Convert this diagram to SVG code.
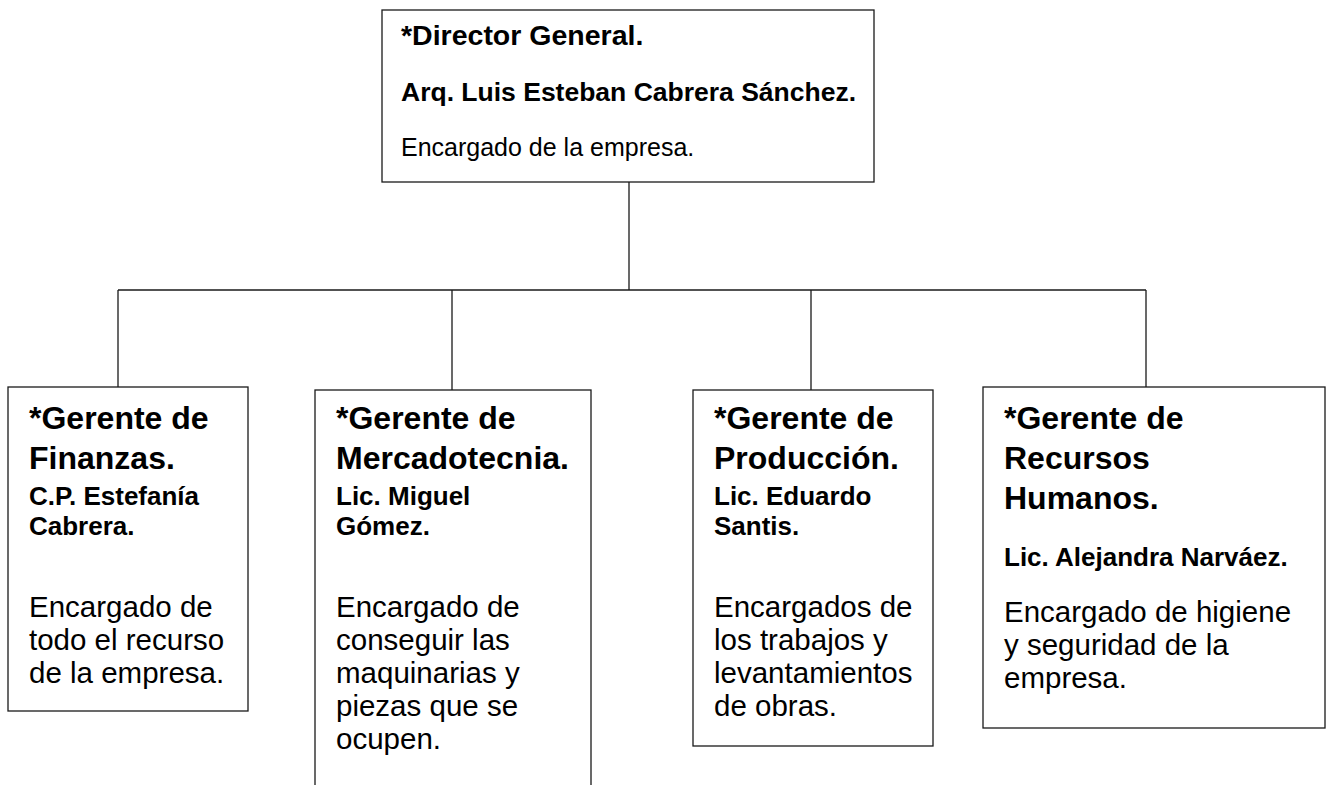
<svg xmlns="http://www.w3.org/2000/svg" width="1332" height="785" viewBox="0 0 1332 785">
<style>
.box{fill:#fff;stroke:#1a1a1a;stroke-width:1.3}
.con{fill:none;stroke:#1a1a1a;stroke-width:1.3}
text{font-family:"Liberation Sans",Arial,sans-serif;fill:#000}
.t0{font-weight:bold;font-size:28.5px}
.n0{font-weight:bold;font-size:26.5px}
.d0{font-size:25px}
.t{font-weight:bold;font-size:32px}
.n{font-weight:bold;font-size:26px}
.d{font-size:29.5px}
</style>
<rect width="1332" height="785" fill="#fff"/>
<g id="connectors">
<path class="con" d="M629 182V290M118 290H1146M118 290V387M452 290V390M811 290V390M1146 290V387"/>
</g>
<g id="director">
<rect class="box" x="382" y="10" width="492" height="172"/>
<text class="t0" x="401" y="45">*Director General.</text>
<text class="n0" x="401" y="101">Arq. Luis Esteban Cabrera Sánchez.</text>
<text class="d0" x="401" y="156">Encargado de la empresa.</text>
</g>
<g id="finanzas">
<rect class="box" x="8" y="387" width="240" height="324"/>
<text class="t" x="29" y="429">*Gerente de</text>
<text class="t" x="29" y="469">Finanzas.</text>
<text class="n" x="29" y="505">C.P. Estefanía</text>
<text class="n" x="29" y="535">Cabrera.</text>
<text class="d" x="29" y="617">Encargado de</text>
<text class="d" x="29" y="650">todo el recurso</text>
<text class="d" x="29" y="683">de la empresa.</text>
</g>
<g id="mercadotecnia">
<rect class="box" x="315" y="390" width="276" height="400"/>
<text class="t" x="336" y="429">*Gerente de</text>
<text class="t" x="336" y="469">Mercadotecnia.</text>
<text class="n" x="336" y="505">Lic. Miguel</text>
<text class="n" x="336" y="535">Gómez.</text>
<text class="d" x="336" y="617">Encargado de</text>
<text class="d" x="336" y="650">conseguir las</text>
<text class="d" x="336" y="683">maquinarias y</text>
<text class="d" x="336" y="716">piezas que se</text>
<text class="d" x="336" y="749">ocupen.</text>
</g>
<g id="produccion">
<rect class="box" x="693" y="390" width="240" height="356"/>
<text class="t" x="714" y="429">*Gerente de</text>
<text class="t" x="714" y="469">Producción.</text>
<text class="n" x="714" y="505">Lic. Eduardo</text>
<text class="n" x="714" y="535">Santis.</text>
<text class="d" x="714" y="617">Encargados de</text>
<text class="d" x="714" y="650">los trabajos y</text>
<text class="d" x="714" y="683">levantamientos</text>
<text class="d" x="714" y="716">de obras.</text>
</g>
<g id="rrhh">
<rect class="box" x="983" y="387" width="342" height="341"/>
<text class="t" x="1004" y="429">*Gerente de</text>
<text class="t" x="1004" y="469">Recursos</text>
<text class="t" x="1004" y="509">Humanos.</text>
<text class="n" x="1004" y="566">Lic. Alejandra Narváez.</text>
<text class="d" x="1004" y="622">Encargado de higiene</text>
<text class="d" x="1004" y="655">y seguridad de la</text>
<text class="d" x="1004" y="688">empresa.</text>
</g>
</svg>
